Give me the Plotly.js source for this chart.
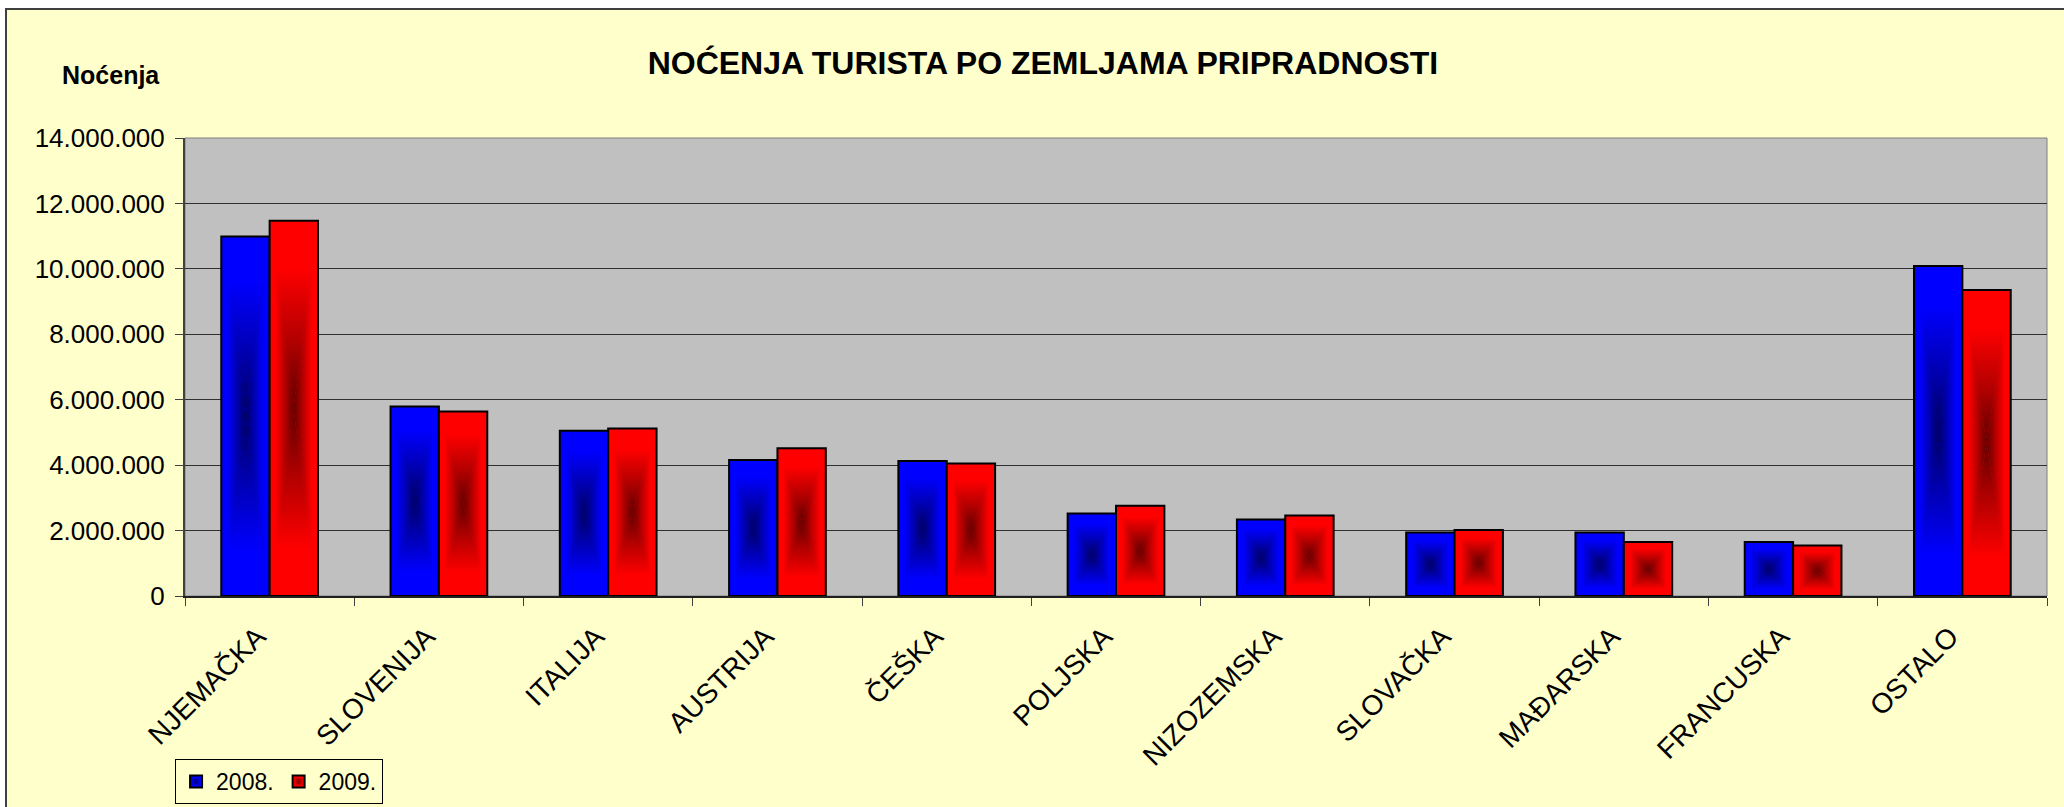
<!DOCTYPE html>
<html>
<head>
<meta charset="utf-8">
<script src="https://cdn.plot.ly/plotly-3.0.1.min.js"></script>
<style>
  html, body { margin: 0; padding: 0; background: #ffffff; overflow: hidden; width: 2064px; height: 807px; }
  #wrap { position: absolute; left: 5px; top: 8px; width: 2070px; height: 810px; border: 2px solid #404040; background: #FFFFCC; }
  #chart { position: absolute; left: 0; top: 0; width: 2057px; height: 797px; }
</style>
</head>
<body>
<div id="wrap"><div id="chart"></div></div>
<script>
// ---- data ----
var categories = ["NJEMAČKA", "SLOVENIJA", "ITALIJA", "AUSTRIJA", "ČEŠKA", "POLJSKA",
                  "NIZOZEMSKA", "SLOVAČKA", "MAĐARSKA", "FRANCUSKA", "OSTALO"];
var values2008 = [10990000, 5790000, 5050000, 4160000, 4130000, 2520000,
                  2340000, 1940000, 1940000, 1650000, 10090000];
var values2009 = [11470000, 5640000, 5120000, 4520000, 4050000, 2760000,
                  2460000, 2020000, 1650000, 1540000, 9350000];
var seriesNames = ["2008.", "2009."];
var chartTitle = "NOĆENJA TURISTA PO ZEMLJAMA PRIPRADNOSTI";
var yAxisLabel = "Noćenja";

var FONT = "Liberation Sans, Arial, sans-serif";

var traces = [
  { type: "bar", name: seriesNames[0], x: categories, y: values2008,
    marker: { color: "#0000FF", line: { color: "#000000", width: 2 } } },
  { type: "bar", name: seriesNames[1], x: categories, y: values2009,
    marker: { color: "#FF0000", line: { color: "#000000", width: 2 } } }
];

var layout = {
  width: 2057, height: 797,
  margin: { l: 178, r: 17, t: 128, b: 211, pad: 0 },
  paper_bgcolor: "#FFFFCC",
  plot_bgcolor: "#C0C0C0",
  separators: ",.",
  font: { family: FONT, size: 26, color: "#000000" },
  barmode: "group",
  bargap: 0.4286,
  bargroupgap: 0,
  title: {
    text: "<b>" + chartTitle + "</b>",
    font: { family: FONT, size: 32, color: "#000000" },
    xref: "container", yref: "container",
    x: 0.5036, y: 0.9335, xanchor: "center", yanchor: "middle"
  },
  xaxis: {
    type: "category",
    tickangle: -45,
    tickfont: { family: FONT, size: 28, color: "#000000" },
    ticks: "outside", ticklen: 8, tickcolor: "#404040", tickwidth: 1,
    tickson: "boundaries",
    showline: true, linecolor: "#202020", linewidth: 2,
    showgrid: false, zeroline: false,
    ticklabelshift: -12,
    ticklabelstandoff: 11
  },
  yaxis: {
    range: [0, 14000000],
    dtick: 2000000, tick0: 0,
    tickformat: ",d",
    tickfont: { family: FONT, size: 26, color: "#000000" },
    ticks: "outside", ticklen: 8, tickcolor: "#404040", tickwidth: 1,
    ticklabelstandoff: 5,
    showline: true, linecolor: "#404040", linewidth: 2,
    showgrid: true, gridcolor: "#303030", gridwidth: 1,
    zeroline: false
  },
  showlegend: true,
  legend: {
    orientation: "h",
    xref: "container", yref: "container",
    x: 0.0817, y: 0.0602, xanchor: "left", yanchor: "top",
    bgcolor: "#FFFFCC", bordercolor: "#000000", borderwidth: 1,
    font: { family: FONT, size: 23, color: "#000000" },
    itemwidth: 30, tracegroupgap: 0
  },
  annotations: [{
    text: "<b>" + yAxisLabel + "</b>",
    xref: "paper", yref: "paper",
    x: -0.0397, y: 1.1376, xanchor: "center", yanchor: "middle",
    showarrow: false,
    font: { family: FONT, size: 25, color: "#000000" }
  }],
  shapes: [{
    type: "rect", xref: "paper", yref: "paper", x0: 0, x1: 1, y0: 0, y1: 1,
    line: { color: "#808080", width: 1 }, fillcolor: "rgba(0,0,0,0)", layer: "below"
  }]
};

function addGradients(gd) {
  var NS = "http://www.w3.org/2000/svg";
  var svg = gd.querySelector("svg.main-svg");
  var defs = document.createElementNS(NS, "defs");
  var palettes = [
    ["#0000FF", "#0000FF", "#0000B0", "#000060"],
    ["#FF0000", "#FF0000", "#B00000", "#600000"]
  ];
  var dirs = [
    { pts: "0,0 0.5,0.5 0,1", x1: 0, y1: 0, x2: 1, y2: 0 },
    { pts: "1,0 0.5,0.5 1,1", x1: 1, y1: 0, x2: 0, y2: 0 },
    { pts: "0,0 1,0 0.5,0.5", x1: 0, y1: 0, x2: 0, y2: 1 },
    { pts: "0,1 1,1 0.5,0.5", x1: 0, y1: 1, x2: 0, y2: 0 }
  ];
  var offs = [0, 0.25, 0.65, 1];
  palettes.forEach(function (pal, i) {
    var pat = document.createElementNS(NS, "pattern");
    pat.setAttribute("id", "barpat" + i);
    pat.setAttribute("patternUnits", "objectBoundingBox");
    pat.setAttribute("patternContentUnits", "objectBoundingBox");
    pat.setAttribute("width", "1");
    pat.setAttribute("height", "1");
    var bg = document.createElementNS(NS, "rect");
    bg.setAttribute("x", 0); bg.setAttribute("y", 0);
    bg.setAttribute("width", 1); bg.setAttribute("height", 1);
    bg.setAttribute("fill", pal[0]);
    pat.appendChild(bg);
    dirs.forEach(function (d, k) {
      var g = document.createElementNS(NS, "linearGradient");
      g.setAttribute("id", "bargrad" + i + "_" + k);
      g.setAttribute("x1", d.x1); g.setAttribute("y1", d.y1);
      g.setAttribute("x2", d.x2); g.setAttribute("y2", d.y2);
      offs.forEach(function (o, s) {
        var st = document.createElementNS(NS, "stop");
        st.setAttribute("offset", o);
        st.setAttribute("stop-color", pal[s]);
        g.appendChild(st);
      });
      defs.appendChild(g);
      var poly = document.createElementNS(NS, "polygon");
      poly.setAttribute("points", d.pts);
      poly.setAttribute("fill", "url(#bargrad" + i + "_" + k + ")");
      pat.appendChild(poly);
    });
    defs.appendChild(pat);
  });
  svg.insertBefore(defs, svg.firstChild);

  var barTraces = gd.querySelectorAll(".barlayer .trace");
  barTraces.forEach(function (t, i) {
    t.querySelectorAll("path").forEach(function (p) { p.style.fill = "url(#barpat" + i + ")"; });
  });
  var legTraces = gd.querySelectorAll(".legend .traces");
  legTraces.forEach(function (t, i) {
    t.querySelectorAll(".legendpoints path").forEach(function (p) { p.style.fill = "url(#barpat" + i + ")"; });
  });
}

Plotly.newPlot("chart", traces, layout, { staticPlot: true, displayModeBar: false })
  .then(addGradients);
</script>
</body>
</html>
